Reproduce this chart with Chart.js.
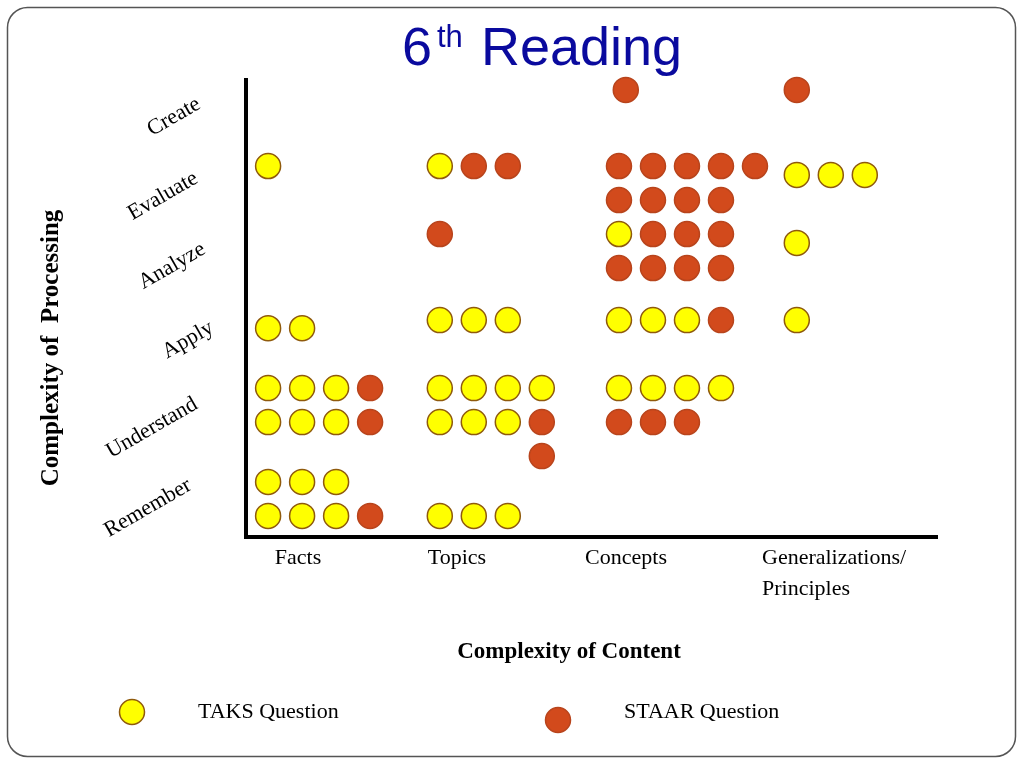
<!DOCTYPE html>
<html>
<head>
<meta charset="utf-8">
<title>6th Reading</title>
<script src="https://cdn.jsdelivr.net/npm/chart.js@4"></script>
<style>
  html, body { margin: 0; padding: 0; background: #fff; }
  canvas { display: block; }
</style>
</head>
<body>
<canvas id="myChart" width="1024" height="768"></canvas>
<script>
// Levels of processing, bottom to top
const levels = ["Remember", "Understand", "Apply", "Analyze", "Evaluate", "Create"];
const categories = ["Facts", "Topics", "Concepts", "Generalizations/Principles"];

// Questions per cell, one string per row of dots: T = TAKS, S = STAAR, . = gap
// Each array is indexed by level (Remember ... Create)
const facts = [["TTT", "TTTS"], ["TTTS", "TTTS"], ["TT"], [], ["T"], []];
const topics = [["", "TTT"], ["TTTT", "TTTS", "...S"], ["TTT"], ["S"], ["TSS"], []];
const concepts = [[], ["TTTT", "SSS"], ["TTTS"], ["TSSS", "SSSS"], ["SSSSS", "SSSS"], ["S"]];
const generalizations = [[], [], ["T"], ["T"], ["TTT"], ["S"]];

// Layout in axis units (one unit = one dot slot)
const groupX = [0.65, 5.7, 10.97, 16.2];
const levelY = [1.62, 4.38, 6.38, 8.91, 10.91, 13.15];
const nudge = { "0-2": [0, -0.24], "3-3": [0, -0.26], "3-4": [0, -0.26], "2-5": [0.2, 0] };

const taksPoints = [];
const staarPoints = [];
[facts, topics, concepts, generalizations].forEach((cells, g) => {
  cells.forEach((rows, lv) => {
    const [dx, dy] = nudge[g + "-" + lv] || [0, 0];
    rows.forEach((row, r) => {
      [...row].forEach((mark, c) => {
        if (mark === ".") return;
        const pt = { x: groupX[g] + c + dx, y: levelY[lv] - r + dy };
        (mark === "T" ? taksPoints : staarPoints).push(pt);
      });
    });
  });
});

const yellow = "#ffff00", yellowEdge = "#8f5a0c";
const orange = "#d24a1c", orangeEdge = "#b8441c";

// Slide frame, title, axes and all the labels
const slidePlugin = {
  id: "slide",
  beforeDraw(chart) {
    const c = chart.ctx;
    c.save();
    c.fillStyle = "#fff";
    c.fillRect(0, 0, chart.width, chart.height);
    c.strokeStyle = "#555";
    c.lineWidth = 1.5;
    c.beginPath();
    c.roundRect(7.5, 7.5, 1008, 749, 20);
    c.stroke();
    c.restore();
  },
  beforeDatasetsDraw(chart) {
    const c = chart.ctx;
    const a = chart.chartArea;
    c.save();
    c.strokeStyle = "#000";
    c.lineWidth = 4;
    c.beginPath();
    c.moveTo(a.left, a.top);
    c.lineTo(a.left, a.bottom);
    c.lineTo(a.right, a.bottom);
    c.stroke();
    c.restore();
  },
  afterDraw(chart) {
    const c = chart.ctx;
    c.save();
    // title
    c.fillStyle = "#0a0a9e";
    c.textBaseline = "alphabetic";
    c.textAlign = "left";
    c.font = "54px 'Liberation Sans'";
    c.fillText("6", 402, 65);
    c.fillText("Reading", 481, 65);
    c.font = "31px 'Liberation Sans'";
    c.fillText("th", 437, 47);

    c.fillStyle = "#000";
    // level labels, tilted
    const labelPos = [[148, 508], [152, 428], [188, 340], [172, 266], [163, 196], [174, 117]];
    c.font = "22px 'Liberation Serif'";
    c.textAlign = "center";
    c.textBaseline = "middle";
    levels.forEach((name, i) => {
      c.save();
      c.translate(labelPos[i][0], labelPos[i][1]);
      c.rotate(-Math.PI / 6);
      c.fillText(name, 0, 0);
      c.restore();
    });

    // category labels
    c.font = "22px 'Liberation Serif'";
    c.fillText(categories[0], 298, 558);
    c.fillText(categories[1], 457, 558);
    c.fillText(categories[2], 626, 558);
    c.textAlign = "left";
    const gen = categories[3].split("/");
    c.fillText(gen[0] + "/", 762, 558);
    c.fillText(gen[1], 762, 589);

    // axis titles
    c.textAlign = "center";
    c.font = "bold 23px 'Liberation Serif'";
    c.fillText("Complexity of Content", 569, 652);
    c.save();
    c.translate(52, 348);
    c.rotate(-Math.PI / 2);
    c.font = "bold 25px 'Liberation Serif'";
    c.fillText("Complexity of  Processing", 0, 0);
    c.restore();

    // legend
    const legend = [
      { text: chart.data.datasets[0].label, cx: 132, cy: 712, tx: 198, fill: yellow, edge: yellowEdge },
      { text: chart.data.datasets[1].label, cx: 558, cy: 720, tx: 624, fill: orange, edge: orangeEdge },
    ];
    legend.forEach((l) => {
      c.beginPath();
      c.arc(l.cx, l.cy, 12.5, 0, Math.PI * 2);
      c.fillStyle = l.fill;
      c.fill();
      c.lineWidth = 1.5;
      c.strokeStyle = l.edge;
      c.stroke();
      c.fillStyle = "#000";
      c.textAlign = "left";
      c.font = "22px 'Liberation Serif'";
      c.fillText(l.text, l.tx, 712);
    });
    c.restore();
  },
};

const config = {
  type: "scatter",
  data: {
    datasets: [
      {
        label: "TAKS Question",
        data: taksPoints,
        backgroundColor: yellow,
        borderColor: yellowEdge,
        borderWidth: 1.5,
        pointRadius: 12.5,
        clip: false,
      },
      {
        label: "STAAR Question",
        data: staarPoints,
        backgroundColor: orange,
        borderColor: orangeEdge,
        borderWidth: 1.5,
        pointRadius: 12.5,
        clip: false,
      },
    ],
  },
  options: {
    responsive: false,
    animation: false,
    devicePixelRatio: 1,
    layout: { padding: { left: 246, right: 86, top: 78, bottom: 231 } },
    scales: {
      x: { type: "linear", display: false, min: 0, max: 692 / 34 },
      y: { type: "linear", display: false, min: 0, max: 459 / 34 },
    },
    plugins: { legend: { display: false }, tooltip: { enabled: false } },
  },
  plugins: [slidePlugin],
};

const myChart = new Chart(document.getElementById("myChart"), config);
</script>
</body>
</html>
